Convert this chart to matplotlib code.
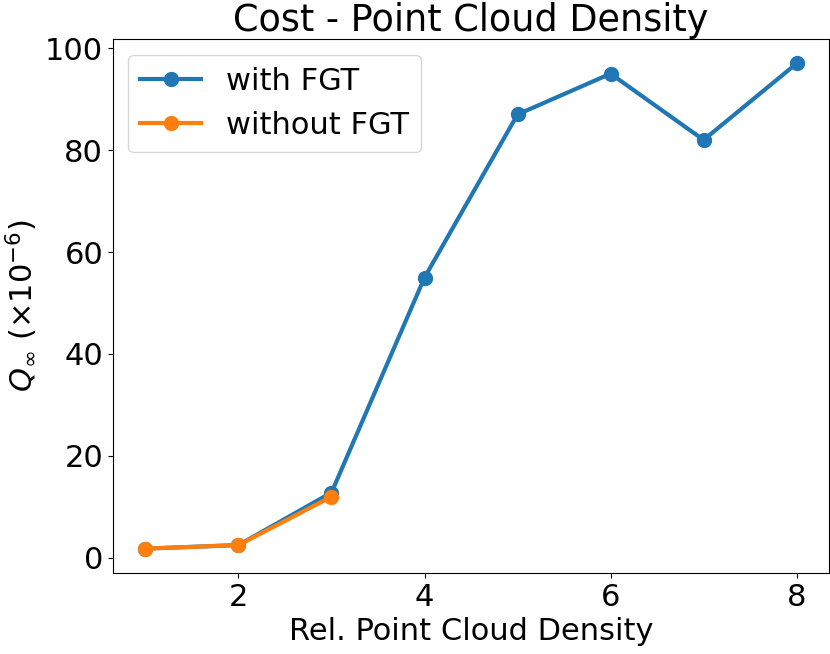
import matplotlib
matplotlib.use("Agg")
import matplotlib.pyplot as plt

density_fgt = [1, 2, 3, 4, 5, 6, 7, 8]
cost_fgt = [1.8, 2.5, 12.8, 55, 87, 95, 82, 97]
density_nofgt = [1, 2, 3]
cost_nofgt = [1.8, 2.5, 12]
xticks = [2, 4, 6, 8]

plt.rcParams['font.size'] = 22
fig, ax = plt.subplots(figsize=(8.3, 6.54), dpi=100)
fig.subplots_adjust(left=0.136, right=0.999, bottom=0.124, top=0.940)
ax.plot(density_fgt, cost_fgt, '-o', lw=3, ms=10, label="with FGT")
ax.plot(density_nofgt, cost_nofgt, '-o', lw=3, ms=10, label="without FGT")
ax.set_xticks(xticks)
ax.set_xlabel("Rel. Point Cloud Density")
ax.set_ylabel(r"$Q_\infty$ ($\times10^{-6}$)")
ax.set_title("Cost - Point Cloud Density")
ax.legend(loc="upper left")
fig.savefig("out.png")
